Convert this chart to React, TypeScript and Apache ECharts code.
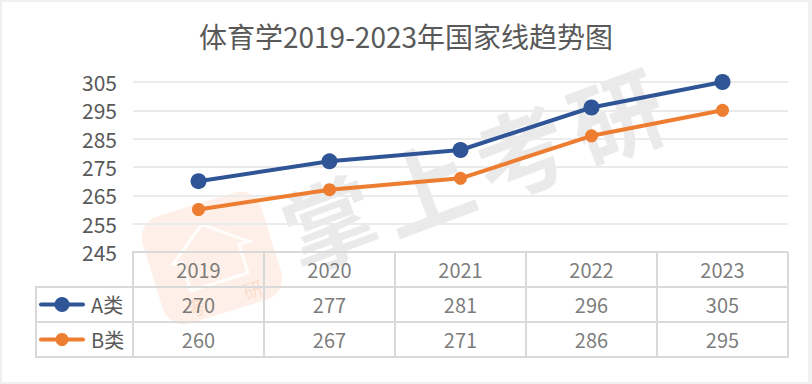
import React, { useEffect, useRef } from 'react';
import * as echarts from 'echarts';

const TITLE = '体育学2019-2023年国家线趋势图';
const YEARS = ['2019', '2020', '2021', '2022', '2023'];
const SERIES_A_NAME = 'A类';
const SERIES_B_NAME = 'B类';
const A_VALUES = [270, 277, 281, 296, 305];
const B_VALUES = [260, 267, 271, 286, 295];
const Y_MIN = 245;
const Y_MAX = 305;
const Y_STEP = 5;
const Y_LABELS = [245, 255, 265, 275, 285, 295, 305];
const GRID_VALUES = [255, 265, 275, 285, 295, 305];
const ROW_KEYS = ['B', 'A', 'H'];
const WATERMARK = ['掌', '上', '考', '研'];

const BLUE = '#2f5597';
const ORANGE = '#ed7d31';
const TEXT = '#595959';
const BORDER = '#d9d9d9';
const FONT = '"Noto Sans CJK SC", "Noto Sans", sans-serif';

const W = 812;
const H = 384;
const PLOT_LEFT = 133;
const PLOT_WIDTH = 655;
const PLOT_TOP = 82;
const PLOT_HEIGHT = 170;
const TABLE_TOP = PLOT_TOP + PLOT_HEIGHT;
const TABLE_HEIGHT = 105;
const LEGEND_LEFT = 36;

export default function App() {
  const ref = useRef<HTMLDivElement>(null);

  useEffect(() => {
    if (!ref.current) return;
    const chart = echarts.init(ref.current, null, { renderer: 'svg' });

    const staticGraphics: any[] = [
      {
        type: 'rect',
        silent: true,
        z: -10,
        shape: { x: 2, y: 2, width: W - 6, height: H - 4 },
        style: { fill: '#ffffff' },
      },
      {
        type: 'group',
        x: 212,
        y: 258,
        rotation: 0.3,
        z: -5,
        silent: true,
        children: [
          {
            type: 'rect',
            shape: { x: -62, y: -56, width: 124, height: 112, r: 22 },
            style: { fill: 'rgba(245,150,90,0.14)' },
          },
          {
            type: 'polyline',
            shape: { points: [[-40, -5], [0, -35], [40, -5], [30, -5], [30, 25], [-30, 25], [-30, -5], [-40, -5]] },
            style: { stroke: 'rgba(255,255,255,0.9)', lineWidth: 3, fill: 'none' },
          },
          {
            type: 'text',
            x: -30,
            y: 42,
            style: { text: '考', fontSize: 20, fontFamily: FONT, fill: 'rgba(240,130,70,0.18)', textAlign: 'center', textVerticalAlign: 'middle' },
          },
          {
            type: 'text',
            x: 30,
            y: 42,
            style: { text: '研', fontSize: 20, fontFamily: FONT, fill: 'rgba(240,130,70,0.18)', textAlign: 'center', textVerticalAlign: 'middle' },
          },
        ],
      },
      {
        type: 'group',
        x: 472,
        y: 166,
        rotation: 0.355,
        z: 2,
        silent: true,
        children: WATERMARK.map((ch, i) => ({
          type: 'text',
          x: (i - 1.5) * 102,
          y: 0,
          style: {
            text: ch,
            fontSize: 92,
            fontWeight: 'bold',
            fontFamily: FONT,
            fill: 'rgba(200,200,200,0.38)',
            textAlign: 'center',
            textVerticalAlign: 'middle',
          },
        })),
      },
    ];

    const tableData: any[] = [
      ...YEARS.map((y) => [y, 'H', y]),
      ...YEARS.map((y, i) => [y, 'A', A_VALUES[i]]),
      ...YEARS.map((y, i) => [y, 'B', B_VALUES[i]]),
    ];

    const option: any = {
      animation: false,
      backgroundColor: '#f0f0f0',
      title: {
        text: TITLE,
        left: 'center',
        top: 17,
        textStyle: { fontSize: 28, fontWeight: 'normal', color: TEXT, fontFamily: FONT },
      },
      grid: [
        { left: PLOT_LEFT, top: PLOT_TOP, width: PLOT_WIDTH, height: PLOT_HEIGHT },
        { left: PLOT_LEFT, top: TABLE_TOP, width: PLOT_WIDTH, height: TABLE_HEIGHT },
      ],
      xAxis: [
        {
          gridIndex: 0,
          type: 'category',
          data: YEARS,
          boundaryGap: true,
          axisLine: { show: false },
          axisTick: { show: false },
          axisLabel: { show: false },
          splitLine: { show: false },
        },
        {
          gridIndex: 1,
          type: 'category',
          data: YEARS,
          boundaryGap: true,
          axisLine: { show: true, lineStyle: { color: BORDER, width: 2 } },
          axisTick: { show: false },
          axisLabel: { show: false },
          splitLine: { show: true, lineStyle: { color: BORDER, width: 2 } },
        },
      ],
      yAxis: [
        {
          gridIndex: 0,
          type: 'value',
          min: Y_MIN,
          max: Y_MAX,
          interval: Y_STEP,
          axisLine: { show: false },
          axisTick: { show: false },
          splitLine: { show: false },
          axisLabel: {
            formatter: (v: number) => (Y_LABELS.includes(v) ? String(v) : ''),
            fontSize: 21,
            color: TEXT,
            margin: 16,
            fontFamily: FONT,
          },
        },
        {
          gridIndex: 1,
          type: 'category',
          data: ROW_KEYS,
          boundaryGap: true,
          axisLine: { show: true, lineStyle: { color: BORDER, width: 2 } },
          axisTick: { show: false },
          axisLabel: { show: false },
          splitLine: { show: true, lineStyle: { color: BORDER, width: 2 } },
        },
      ],
      series: [
        {
          name: SERIES_A_NAME,
          type: 'line',
          xAxisIndex: 0,
          yAxisIndex: 0,
          data: A_VALUES,
          symbol: 'circle',
          symbolSize: 16,
          lineStyle: { width: 4, color: BLUE },
          itemStyle: { color: BLUE },
          z: 4,
          markLine: {
            silent: true,
            z: 1,
            symbol: ['none', 'none'],
            label: { show: false },
            lineStyle: { color: '#ebebeb', width: 2, type: 'solid' },
            data: GRID_VALUES.map((v) => ({ yAxis: v })),
          },
        },
        {
          name: SERIES_B_NAME,
          type: 'line',
          xAxisIndex: 0,
          yAxisIndex: 0,
          data: B_VALUES,
          symbol: 'circle',
          symbolSize: 13,
          lineStyle: { width: 4, color: ORANGE },
          itemStyle: { color: ORANGE },
          z: 4,
        },
        {
          type: 'scatter',
          xAxisIndex: 1,
          yAxisIndex: 1,
          data: tableData,
          symbolSize: 1,
          silent: true,
          itemStyle: { color: 'rgba(0,0,0,0)' },
          label: {
            show: true,
            position: 'inside',
            formatter: (p: any) => String(p.value[2]),
            fontSize: 20,
            color: TEXT,
            fontFamily: FONT,
          },
        },
      ],
      graphic: { elements: staticGraphics },
    };

    chart.setOption(option);

    const yA = chart.convertToPixel({ yAxisIndex: 1 }, ROW_KEYS.indexOf('A')) as number;
    const yB = chart.convertToPixel({ yAxisIndex: 1 }, ROW_KEYS.indexOf('B')) as number;
    const half = Math.abs(yB - yA) / 2;
    const rowBorders = [yA - half, yA + half, yB + half];
    const legendRows = [
      { y: yA, color: BLUE, r: 7.5, name: SERIES_A_NAME },
      { y: yB, color: ORANGE, r: 6.5, name: SERIES_B_NAME },
    ];

    const dynamicGraphics: any[] = [
      ...rowBorders.map((y) => ({
        type: 'line',
        silent: true,
        shape: { x1: LEGEND_LEFT, y1: y, x2: PLOT_LEFT, y2: y },
        style: { stroke: BORDER, lineWidth: 2 },
      })),
      {
        type: 'line',
        silent: true,
        shape: { x1: LEGEND_LEFT, y1: rowBorders[0] - 1, x2: LEGEND_LEFT, y2: rowBorders[2] + 1 },
        style: { stroke: BORDER, lineWidth: 2 },
      },
      ...legendRows.flatMap((row) => [
        {
          type: 'line',
          silent: true,
          shape: { x1: 41, y1: row.y, x2: 83, y2: row.y },
          style: { stroke: row.color, lineWidth: 4, lineCap: 'round' },
        },
        {
          type: 'circle',
          silent: true,
          shape: { cx: 62, cy: row.y, r: row.r },
          style: { fill: row.color },
        },
        {
          type: 'text',
          silent: true,
          x: 91,
          y: row.y,
          style: { text: row.name, fontSize: 20, fontFamily: FONT, fill: TEXT, textAlign: 'left', textVerticalAlign: 'middle' },
        },
      ]),
    ];

    chart.setOption({ graphic: { elements: [...staticGraphics, ...dynamicGraphics] } });

    return () => {
      chart.dispose();
    };
  }, []);

  return (
    <div
      ref={ref}
      style={{ position: 'absolute', left: 0, top: 0, width: W, height: H }}
    />
  );
}
